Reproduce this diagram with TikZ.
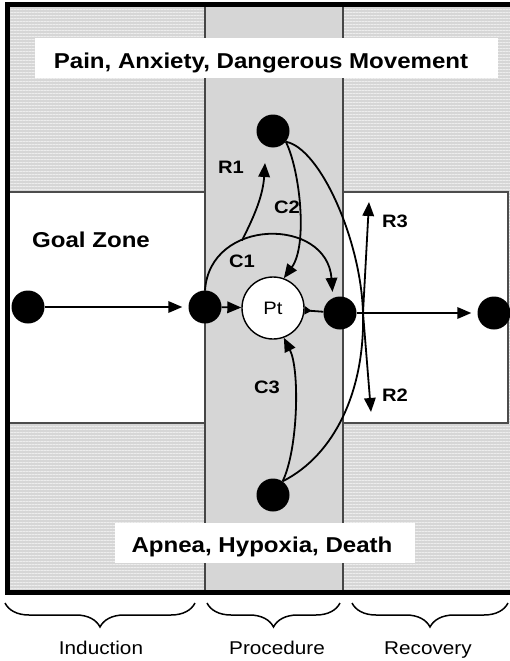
\documentclass[tikz,border=0pt]{standalone}
\usepackage{fontspec}
\setmainfont[FakeStretch=1.12]{Liberation Sans}
\usetikzlibrary{arrows.meta,patterns.meta,decorations.pathreplacing}
\begin{document}
\begin{tikzpicture}[x=1pt,y=-1pt,
  dot/.style={circle,fill=black,minimum size=33pt,inner sep=0pt},
  ptnode/.style={circle,draw=black,line width=1.4pt,fill=white,minimum size=62pt,inner sep=0pt,font=\fontsize{18}{20}\selectfont},
  lbl/.style={font=\bfseries\fontsize{18}{20}\selectfont,inner sep=0pt},
  bannertext/.style={inner sep=0pt,font=\bfseries\fontsize{21.5}{24}\selectfont},
  conn/.style={line width=1.8pt},
  arr/.style={conn,-{Triangle[length=14pt,width=11.5pt]}},
  hatch/.style={fill=gray!32, postaction={pattern={Lines[angle=0,distance=3pt,line width=1pt]},pattern color=gray!14}},
  phase/.style={inner sep=0pt,font=\fontsize{18.5}{20}\selectfont},
  brc/.style={decorate,decoration={brace,mirror,amplitude=24pt},line width=1.5pt}
]
\useasboundingbox (0,0) rectangle (509,661);
\fill[white] (0,0) rectangle (509,661);
% hatched background
\path[hatch] (7,5) rectangle (515,592);
% goal zones
\draw[fill=white,draw=gray!60!black,line width=1.2pt] (8,192) rectangle (205,423);
\draw[fill=white,draw=gray!60!black,line width=1.2pt] (343,192) rectangle (508,423);
% procedure column
\draw[fill=gray!32,draw=gray!55!black,line width=1.2pt] (205,6) rectangle (343,591);
% banners
\fill[white] (35,38) rectangle (498,78);
\node[bannertext,anchor=base] (top) at (261,68) {Pain, Anxiety, Dangerous Movement};
\fill[white] (115,523) rectangle (415,563);
\node[bannertext,anchor=base] (bot) at (262,552) {Apnea, Hypoxia, Death};
% frame
\draw[line width=5pt] (7.5,5) rectangle (515,592.5);
% labels
\node[bannertext,anchor=base] (goal) at (91,247) {Goal Zone};
% nodes
\node[dot] (L) at (28,307) {};
\node[dot] (A) at (205,307) {};
\node[ptnode] (Pt) at (273,308) {Pt};
\node[dot] (B) at (340,313) {};
\node[dot] (R) at (494,313) {};
\node[dot] (T) at (273,131) {};
\node[dot] (Bo) at (273,495) {};
\coordinate (X) at (363,313);
\coordinate (r1tip) at (265,163);
\coordinate (r3tip) at (369,202);
\coordinate (r2tip) at (371,412);
% connectors
\draw[arr,shorten >=6pt] (L) -- (A);
\draw[arr] (A) -- (Pt);
\draw[conn,{Triangle[length=7pt,width=8pt,reversed]}-] (Pt) -- (B);
\draw[arr,shorten >=6pt] (B) -- (R);
\draw[arr,shorten >=6pt] (A.north) .. controls (210,217) and (327,217) .. (B.115) coordinate[pos=0.35] (c1r);
\draw[arr] (c1r) .. controls (255,215) and (263,195) .. (r1tip);
\draw[arr] (T.-40) .. controls (300,170) and (308,245) .. (Pt.70);
\draw[conn] (T.-40) .. controls (320,148) and (361,240) .. (X) .. controls (365,390) and (335,455) .. (Bo.55);
\draw[arr] (Bo.55) .. controls (298,450) and (300,370) .. (Pt.-70);
\draw[arr] (X) -- (r3tip);
\draw[arr] (X) -- (r2tip);
% connector labels
\node[lbl,anchor=base] (lR1) at (231,173) {R1};
\node[lbl,anchor=base] (lC2) at (287,213) {C2};
\node[lbl,anchor=base] (lC1) at (242,267) {C1};
\node[lbl,anchor=base] (lC3) at (267,393) {C3};
\node[lbl,anchor=base] (lR3) at (395,227) {R3};
\node[lbl,anchor=base] (lR2) at (395,401) {R2};
% braces
\draw[brc] (5,603) -- (195,603);
\draw[brc] (207,603) -- (340,603);
\draw[brc] (352,603) -- (508,603);
\node[phase,anchor=base] (ind) at (101,654) {Induction};
\node[phase,anchor=base] (pro) at (277,654) {Procedure};
\node[phase,anchor=base] (rec) at (428,654) {Recovery};
\end{tikzpicture}
\end{document}
